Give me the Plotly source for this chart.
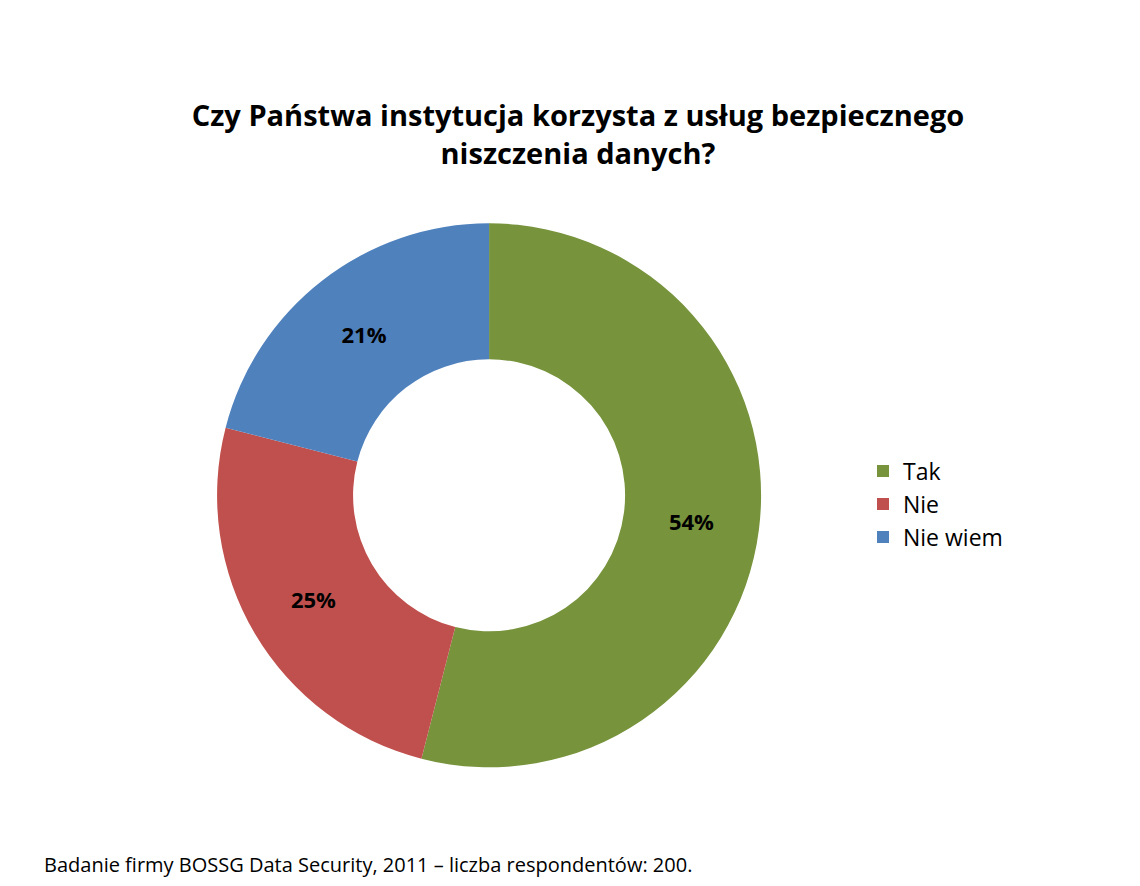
import plotly.graph_objects as go

labels = ["Tak", "Nie", "Nie wiem"]
values = [54, 25, 21]
colors = ["#77933C", "#C0504D", "#4F81BD"]

fig = go.Figure(go.Pie(
    labels=labels, values=values, hole=0.5, sort=False, direction="clockwise",
    rotation=0, marker=dict(colors=colors),
    texttemplate="<b>%{value}%</b>", textposition="inside", insidetextorientation="horizontal",
    textfont=dict(size=22, color="black", family="Open Sans"),
    domain=dict(x=[0.183, 0.661], y=[0.143, 0.757]),
))
fig.update_layout(
    width=1140, height=886, margin=dict(l=0, r=0, t=0, b=0),
    paper_bgcolor="white", font=dict(family="Open Sans"),
    title=dict(text="<b>Czy Państwa instytucja korzysta z usług bezpiecznego<br>niszczenia danych?</b>",
               x=0.5, xanchor="center", y=0.867, yanchor="middle",
               font=dict(size=29, color="black")),
    legend=dict(x=0.75, y=0.44, xanchor="left", yanchor="middle",
                font=dict(size=23, color="black"), itemwidth=30),
    annotations=[dict(text="Badanie firmy BOSSG Data Security, 2011 – liczba respondentów: 200.",
                      x=0.03, y=0.033, xref="paper", yref="paper", xanchor="left", yanchor="middle",
                      showarrow=False, font=dict(size=20, color="black"))],
)
fig.write_html("out.html")
